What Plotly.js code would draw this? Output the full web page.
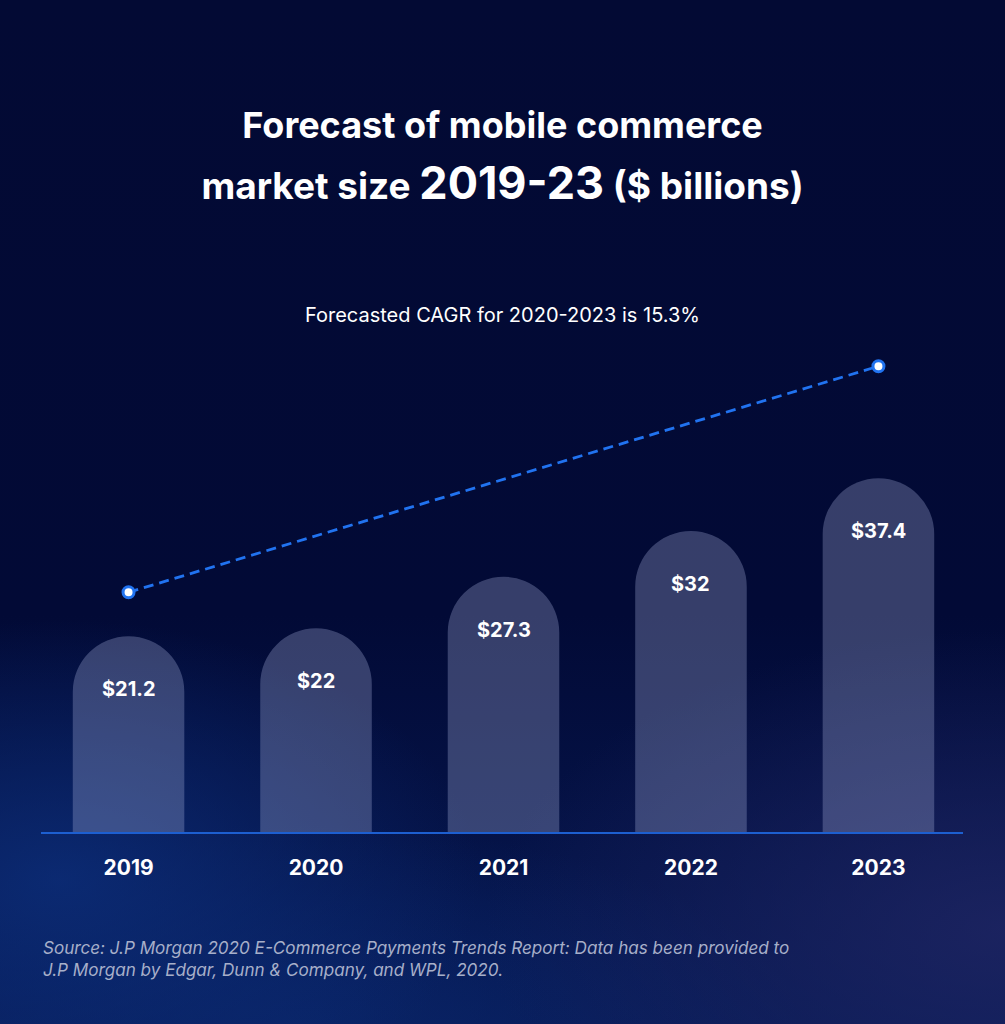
<!DOCTYPE html>
<html>
<head>
<meta charset="utf-8">
<script src="https://cdn.plot.ly/plotly-3.0.1.min.js"></script>
<style>
  html, body { margin: 0; padding: 0; }
  body {
    width: 1005px; height: 1024px; overflow: hidden;
    background:
      radial-gradient(ellipse 420px 260px at 60px 880px, rgba(12,45,120,0.85), rgba(12,45,120,0) 100%),
      radial-gradient(ellipse 520px 300px at 1005px 930px, rgba(32,38,100,0.8), rgba(32,38,100,0) 100%),
      radial-gradient(ellipse 500px 200px at 300px 1024px, rgba(10,40,110,0.7), rgba(10,40,110,0) 100%),
      linear-gradient(180deg, #030a34 0%, #020a36 60%, #071a55 100%);
  }
  #chart { width: 1005px; height: 1024px; }
</style>
</head>
<body>
<div id="chart"></div>
<script>
// ---- data ----
const years = ['2019', '2020', '2021', '2022', '2023'];
const marketSize = [21.2, 22, 27.3, 32, 37.4];
const valueLabels = ['$21.2', '$22', '$27.3', '$32', '$37.4'];
const trendYears = ['2019', '2023'];
const trendLevel = [25.7, 48.9];
const titleLine1 = 'Forecast of mobile commerce';
const titleLine2a = 'market size ';
const titleLine2b = '2019-23';
const titleLine2c = ' ($ billions)';
const subtitle = 'Forecasted CAGR for 2020-2023 is 15.3%';
const sourceText = 'Source: J.P Morgan 2020 E-Commerce Payments Trends Report: Data has been provided to<br>J.P Morgan by Edgar, Dunn &amp; Company, and WPL, 2020.';

const FONT = 'Inter, "Open Sans", "DejaVu Sans", sans-serif';

const bars = {
  type: 'bar',
  x: years,
  y: marketSize,
  width: 0.595,
  marker: {
    color: 'rgba(172,180,224,0.31)',
    cornerradius: '50%',
    line: { width: 0 }
  },
  hoverinfo: 'skip',
  showlegend: false
};

const trend = {
  type: 'scatter',
  mode: 'lines+markers',
  x: trendYears,
  y: trendLevel,
  line: { color: '#2173f0', width: 2.8, dash: '10px,6px' },
  marker: { size: 11, color: '#ffffff', line: { color: '#2173f0', width: 3 } },
  hoverinfo: 'skip',
  showlegend: false
};

const annotations = years.map((yr, i) => ({
  x: i, y: marketSize[i], xref: 'x', yref: 'y',
  text: '<b>' + valueLabels[i] + '</b>',
  showarrow: false, xanchor: 'center', yanchor: 'middle', yshift: -53,
  font: { family: FONT, size: 20, color: '#ffffff' }
}));

annotations.push({
  x: 0.5, xref: 'paper', y: (832 - 315) / 532, yref: 'paper',
  text: subtitle, showarrow: false, xanchor: 'center', yanchor: 'middle',
  font: { family: FONT, size: 20, color: '#ffffff' }
});

annotations.push({
  x: 0, xref: 'paper', y: (832 - 958) / 532, yref: 'paper',
  text: '<i>' + sourceText + '</i>', showarrow: false,
  xanchor: 'left', yanchor: 'middle', align: 'left',
  font: { family: FONT, size: 17.1, color: '#a7afc9' }
});

const layout = {
  width: 1005, height: 1024,
  margin: { l: 41, r: 42, t: 300, b: 192 },
  paper_bgcolor: 'rgba(0,0,0,0)',
  plot_bgcolor: 'rgba(0,0,0,0)',
  title: {
    text: '<b><span style="font-size:36px">' + titleLine1 + '</span><br>' +
          '<span style="font-size:37px">' + titleLine2a + '</span>' +
          '<span style="font-size:45px">' + titleLine2b + '</span>' +
          '<span style="font-size:37px">' + titleLine2c + '</span></b>',
    x: 0.5, xanchor: 'center',
    y: 1 - 138 / 1024, yref: 'container', yanchor: 'middle',
    font: { family: FONT, size: 47, color: '#ffffff' }
  },
  xaxis: {
    type: 'category',
    range: [-0.467, 4.451],
    showgrid: false, zeroline: false,
    showline: true, linecolor: '#1d5fd0', linewidth: 2,
    ticks: '', ticklabelstandoff: 16,
    tickfont: { family: FONT, size: 21, color: '#ffffff', weight: 'bold' },
    fixedrange: true
  },
  yaxis: {
    range: [1.1, 55.7],
    showticklabels: false, showline: false, ticks: '',
    showgrid: false, zeroline: false,
    fixedrange: true
  },
  annotations: annotations,
  font: { family: FONT, color: '#ffffff' }
};

Plotly.newPlot('chart', [bars, trend], layout, { displayModeBar: false, staticPlot: true });
</script>
</body>
</html>
